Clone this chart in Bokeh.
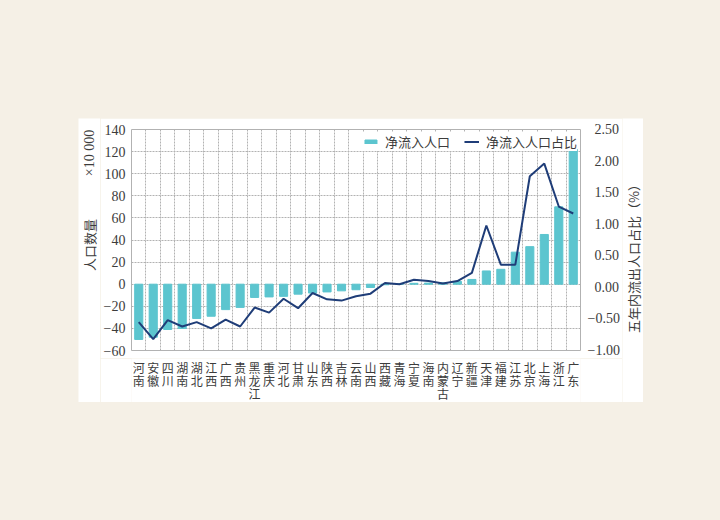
import numpy as np
from bokeh.plotting import figure
from bokeh.models import Range1d, LinearAxis, FixedTicker, Spacer
from bokeh.layouts import column, row
from bokeh.core.properties import value
from bokeh.embed import file_html
from bokeh.resources import INLINE

provinces = ["河南", "安徽", "四川", "湖南", "湖北", "江西", "广西", "贵州", "黑龙江", "重庆",
             "河北", "甘肃", "山东", "陕西", "吉林", "云南", "山西", "西藏", "青海", "宁夏",
             "海南", "内蒙古", "辽宁", "新疆", "天津", "福建", "江苏", "北京", "上海", "浙江", "广东"]
net_inflow = [-50, -48, -41, -40, -31, -29, -23, -21, -12, -11.5,
              -11, -9, -8, -7, -6, -5, -3, -0.5, 0.3, 0.8,
              1.0, 1.2, 2.5, 4.3, 12, 13.5, 29, 34, 45, 70, 122]
net_share = [-0.55, -0.82, -0.52, -0.62, -0.55, -0.65, -0.51, -0.62, -0.32, -0.40,
             -0.18, -0.33, -0.09, -0.19, -0.21, -0.14, -0.10, 0.07, 0.05, 0.12,
             0.10, 0.06, 0.10, 0.23, 0.98, 0.36, 0.36, 1.76, 1.96, 1.28, 1.17]
left_ticks = [-60, -40, -20, 0, 20, 40, 60, 80, 100, 120, 140]
right_ticks = [-1.0, -0.5, 0.0, 0.5, 1.0, 1.5, 2.0, 2.5]
legend_bar = "净流入人口"
legend_line = "净流入人口占比"
left_title = "人口数量"
left_unit = "×10 000"
right_title = "五年内流出人口占比（%）"

BG = "#f5f0e6"
BAR = "#5cc5cf"
LINE = "#1f3d78"
GRID = "#b2b2b2"
TXT = "#3c3c3c"
NUMFONT = "Liberation Serif"
CJK = "Noto Sans CJK SC"

xs = list(range(len(provinces)))
xr = Range1d(-0.5, len(provinces) - 0.5)

# ---------------- main chart ----------------
p = figure(width=522, height=240, x_range=xr,
           y_range=Range1d(left_ticks[0], left_ticks[-1]),
           output_backend="svg", toolbar_location=None,
           min_border_left=29, min_border_right=42, min_border_top=11, min_border_bottom=8,
           border_fill_color="white", background_fill_color="white")
p.extra_y_ranges = {"pct": Range1d(right_ticks[0], right_ticks[-1])}

p.vbar(x=xs, top=net_inflow, width=0.56, color=BAR, legend_label=legend_bar)
p.line(x=xs, y=net_share, y_range_name="pct", line_color=LINE, line_width=2,
       legend_label=legend_line)

p.xaxis.visible = False

p.yaxis.ticker = FixedTicker(ticks=left_ticks)
p.yaxis.major_label_overrides = {t: str(t).replace("-", "\u2212") for t in left_ticks}
p.yaxis.major_label_text_font = NUMFONT
p.yaxis.major_label_text_font_size = "14px"
p.yaxis.major_label_text_color = TXT
p.yaxis.major_label_standoff = 6
p.yaxis.axis_line_color = None
p.yaxis.major_tick_line_color = None
p.yaxis.minor_tick_line_color = None
p.yaxis.major_tick_out = 0
p.yaxis.major_tick_in = 0

ra = LinearAxis(y_range_name="pct", ticker=FixedTicker(ticks=right_ticks))
ra.major_label_overrides = {t: ("\u2212%.2f" % abs(t)) if t < 0 else ("\u2002%.2f" % t)
                            for t in right_ticks}
ra.major_label_text_font = NUMFONT
ra.major_label_text_font_size = "14px"
ra.major_label_text_color = TXT
ra.major_label_standoff = 7
ra.axis_line_color = None
ra.major_tick_line_color = None
ra.minor_tick_line_color = None
ra.major_tick_out = 0
ra.major_tick_in = 0
p.add_layout(ra, "right")

p.ygrid.ticker = FixedTicker(ticks=left_ticks)
p.xgrid.ticker = FixedTicker(ticks=[i - 0.5 for i in range(len(provinces) + 1)])
for g in (p.xgrid, p.ygrid):
    g.grid_line_color = GRID
    g.grid_line_dash = "2 1"
    g.grid_line_width = 1
p.outline_line_color = GRID

lg = p.legend[0]
lg.orientation = "horizontal"
lg.location = "top_right"
lg.margin = 3
lg.padding = 2
lg.spacing = 14
lg.label_standoff = 7
lg.glyph_width = 15
lg.glyph_height = 5
lg.label_height = 14
lg.border_line_color = None
lg.background_fill_color = "white"
lg.background_fill_alpha = 1
lg.label_text_font = CJK
lg.label_text_font_size = "13px"
lg.label_text_color = TXT


def blank(width, height, x_range, y_range):
    f = figure(width=width, height=height, x_range=x_range, y_range=y_range,
               output_backend="svg", toolbar_location=None,
               x_axis_location=None, y_axis_location=None, min_border=0,
               border_fill_color="white", background_fill_color="white")
    f.outline_line_color = None
    f.grid.visible = False
    return f


# ---------------- category labels (stacked characters) ----------------
bottom = figure(width=522, height=44, x_range=xr, y_range=Range1d(-44, 0),
                output_backend="svg", toolbar_location=None,
                x_axis_location=None, y_axis_location=None,
                min_border_left=29, min_border_right=42, min_border_top=0, min_border_bottom=0,
                border_fill_color="white", background_fill_color="white")
bottom.outline_line_color = None
bottom.grid.visible = False
cx, cy, ct = [], [], []
for i, name in enumerate(provinces):
    for j, ch in enumerate(name):
        cx.append(i)
        cy.append(-(13 * j))
        ct.append(ch)
bottom.text(x=cx, y=cy, text=ct, text_align="center", text_baseline="top",
            text_font=value(CJK), text_font_size="12px", text_color=TXT)

# ---------------- side titles ----------------
left = blank(22, 284, Range1d(0, 22), Range1d(0, 284))
left.text(x=[11], y=[157.5], text=[left_title], angle=np.pi / 2, text_align="center",
          text_baseline="middle", text_font=value(CJK), text_font_size="13px", text_color=TXT)
left.text(x=[11], y=[249.5], text=[left_unit], angle=np.pi / 2, text_align="center",
          text_baseline="middle", text_font=value(NUMFONT), text_font_size="14px",
          text_color=TXT)

right = blank(21, 284, Range1d(0, 21), Range1d(0, 284))
right.text(x=[11], y=[147], text=[right_title], angle=np.pi / 2, text_align="center",
           text_baseline="middle", text_font=value(CJK), text_font_size="13px",
           text_color=TXT)

bgst = {"background-color": BG}
layout = column(
    Spacer(width=720, height=118, styles=bgst),
    row(Spacer(width=78, height=284, styles=bgst),
        left, column(p, bottom), right,
        Spacer(width=77, height=284, styles=bgst)),
    Spacer(width=720, height=118, styles=bgst),
    styles=bgst,
)

open("out.html", "w").write(file_html(layout, INLINE))
